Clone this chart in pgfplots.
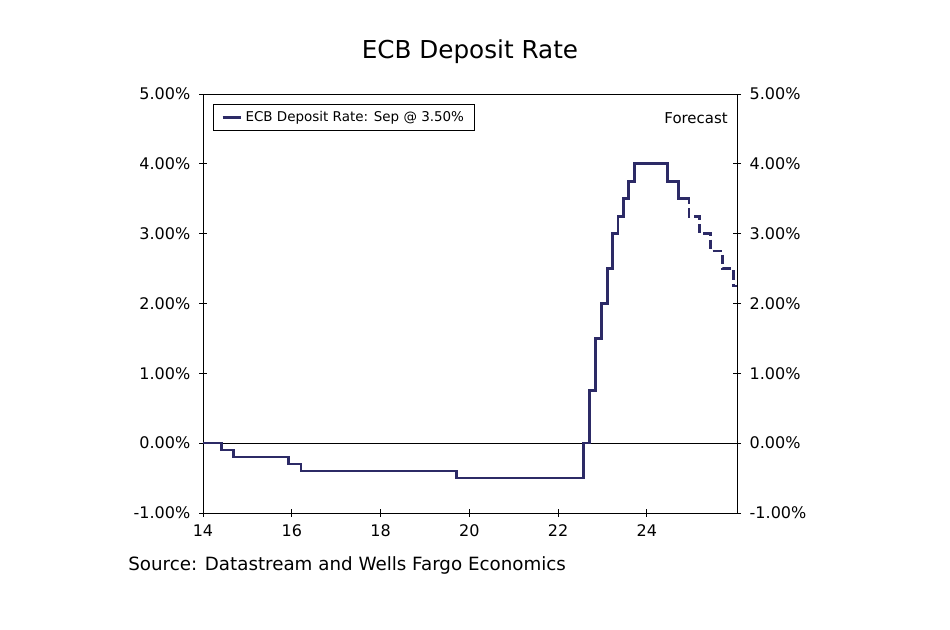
\documentclass[border=0pt]{standalone}
\usepackage{fontspec}
\setmainfont{DejaVu Sans}
\usepackage{pgfplots}
\pgfplotsset{compat=1.18}
\definecolor{ecb}{RGB}{44,42,102}
\begin{document}
\begin{tikzpicture}
\path[use as bounding box, fill=white] (0pt,0pt) rectangle (712.5pt,472.5pt);
\begin{axis}[
  at={(152.25pt,87.75pt)}, anchor=south west,
  scale only axis, width=400.5pt, height=314.25pt,
  xmin=14, xmax=26.03, ymin=-1, ymax=5,
  xtick={14,16,18,20,22,24}, xticklabels={14,16,18,20,22,24},
  ytick={-1,0,1,2,3,4,5},
  yticklabels={-1.00\%,0.00\%,1.00\%,2.00\%,3.00\%,4.00\%,5.00\%},
  ytick pos=left, xtick pos=bottom,
  tick align=center, major tick length=6pt,
  tick style={black, line width=0.6pt},
  axis line style={black, line width=0.6pt},
  ticklabel style={font=\fontsize{12}{14}\selectfont},
  yticklabel style={xshift=-3pt},
  xticklabel style={yshift=-2pt},
  extra y ticks={0}, extra y tick labels={},
  extra y tick style={grid=major, major grid style={black, line width=0.5pt}},
  legend style={at={(0.0187,0.976)}, anchor=north west, draw=black,
    font=\fontsize{10.1}{12}\selectfont, inner xsep=6pt, inner ysep=3pt},
  legend cell align=left,
  legend image code/.code={\draw[ecb, line width=2.2pt] (0pt,0pt) -- (14pt,0pt);},
]
\addplot[const plot, ecb, line width=2pt] coordinates {
(14.00,0)(14.42,-0.1)(14.68,-0.2)(15.92,-0.3)(16.21,-0.4)(19.71,-0.5)
(22.57,0)(22.70,0.75)(22.84,1.5)(22.98,2.0)(23.11,2.5)(23.23,3.0)
(23.35,3.25)(23.47,3.5)(23.59,3.75)(23.72,4.0)(24.46,3.75)(24.71,3.5)(24.86,3.5)
};
\addlegendentry{ECB Deposit Rate: Sep @ 3.50\%}
\addplot[const plot, ecb, line width=2pt, dash pattern=on 7pt off 3pt, forget plot] coordinates {
(24.86,3.5)(24.95,3.25)(25.19,3.0)(25.44,2.75)(25.70,2.5)(25.95,2.25)(26.03,2.25)
};
\node[anchor=east, inner sep=0pt, font=\fontsize{11.2}{13}\selectfont] at (rel axis cs:0.983,0.943) {Forecast};
\end{axis}
\begin{axis}[
  at={(152.25pt,87.75pt)}, anchor=south west,
  scale only axis, width=400.5pt, height=314.25pt,
  xmin=14, xmax=26.03, ymin=-1, ymax=5,
  axis x line=none, axis y line*=right,
  ytick={-1,0,1,2,3,4,5},
  yticklabels={-1.00\%,0.00\%,1.00\%,2.00\%,3.00\%,4.00\%,5.00\%},
  tick align=center, major tick length=6pt,
  tick style={black, line width=0.6pt},
  axis line style={black, line width=0.6pt, -},
  ticklabel style={font=\fontsize{12}{14}\selectfont},
  yticklabel style={xshift=3pt},
]
\addplot[draw=none, forget plot] coordinates {(14,0)(26,0)};
\end{axis}
\node[font=\fontsize{18.5}{22}\selectfont] at (352.5pt,433.5pt) {ECB Deposit Rate};
\node[anchor=west, inner sep=0pt, font=\fontsize{13.7}{16}\selectfont] at (96pt,48.75pt) {Source: Datastream and Wells Fargo Economics};
\end{tikzpicture}
\end{document}
